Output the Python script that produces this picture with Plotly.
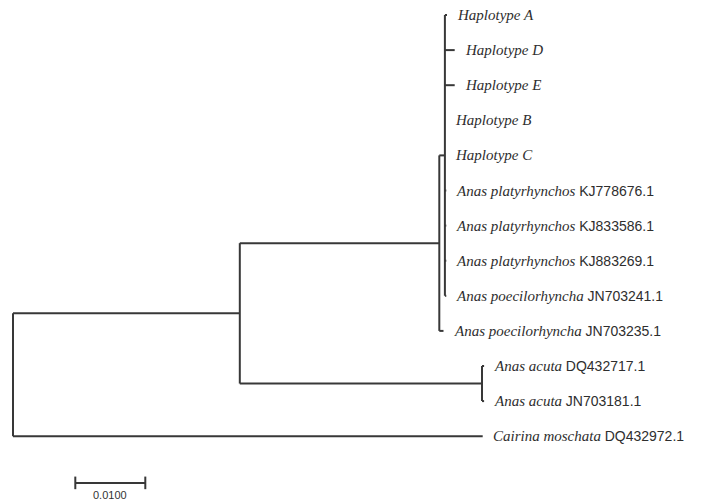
import plotly.graph_objects as go

# ---------------- data ----------------
tip_ids = ["t0", "t1", "t2", "t3", "t4", "t5", "t6", "t7", "t8", "t9", "t10", "t11", "t12"]
tip_species = ["Haplotype A", "Haplotype D", "Haplotype E", "Haplotype B", "Haplotype C",
               "Anas platyrhynchos", "Anas platyrhynchos", "Anas platyrhynchos",
               "Anas poecilorhyncha", "Anas poecilorhyncha",
               "Anas acuta", "Anas acuta", "Cairina moschata"]
tip_accession = ["", "", "", "", "",
                 "KJ778676.1", "KJ833586.1", "KJ883269.1",
                 "JN703241.1", "JN703235.1",
                 "DQ432717.1", "JN703181.1", "DQ432972.1"]

# tree topology: parent -> child with branch length (substitutions/site)
edge_parent = ["root", "root", "n1", "n1", "n2", "n2",
               "n3", "n3", "n3", "n3", "n3", "n3", "n3", "n3", "n3",
               "n4", "n4"]
edge_child = ["n1", "t12", "n2", "n4", "n3", "t9",
              "t0", "t1", "t2", "t3", "t4", "t5", "t6", "t7", "t8",
              "t10", "t11"]
edge_length = [0.0324, 0.0671, 0.0285, 0.0346, 0.0008, 0.0006,
               0.0003, 0.0014, 0.0014, 0.0, 0.0, 0.0002, 0.0002, 0.0002, 0.0002,
               0.0003, 0.0003]

scale_bar_value = 0.01
scale_bar_label = "0.0100"

# ---------------- layout of the tree ----------------
children = {}
for p, c, l in zip(edge_parent, edge_child, edge_length):
    children.setdefault(p, []).append((c, l))

xpos = {"root": 0.0}
ypos = {t: i for i, t in enumerate(tip_ids)}


def place(node):
    for c, l in children.get(node, []):
        xpos[c] = xpos[node] + l
        place(c)
    if node in children:
        ys = [ypos[c] for c, _ in children[node]]
        ypos[node] = (min(ys) + max(ys)) / 2.0


place("root")

lx, ly = [], []
for node, kids in children.items():
    ys = [ypos[c] for c, _ in kids]
    lx += [xpos[node], xpos[node], None]
    ly += [min(ys), max(ys), None]
    for c, _ in kids:
        lx += [xpos[node], xpos[c], None]
        ly += [ypos[c], ypos[c], None]

line_col = "#383838"
fig = go.Figure()
fig.add_trace(go.Scatter(x=lx, y=ly, mode="lines",
                         line=dict(color=line_col, width=2),
                         hoverinfo="skip", showlegend=False))

# tip labels
annotations = []
for t, sp, acc in zip(tip_ids, tip_species, tip_accession):
    txt = "<i>" + sp + "</i>"
    if acc:
        txt += " <span style='font-family:Liberation Sans, Arial; font-size:14px'>" + acc + "</span>"
    annotations.append(dict(x=xpos[t], y=ypos[t], xref="x", yref="y",
                            text=txt, showarrow=False, xanchor="left", yanchor="middle",
                            xshift=8,
                            font=dict(family="Liberation Serif, Times New Roman", size=15,
                                      color="#2e2e2e")))

# scale bar
sb_x0 = 0.0089
sb_y = 13.33
fig.add_trace(go.Scatter(x=[sb_x0, sb_x0 + scale_bar_value], y=[sb_y, sb_y],
                         mode="lines+markers",
                         line=dict(color=line_col, width=2),
                         marker=dict(symbol="line-ns", size=9,
                                     line=dict(color=line_col, width=2)),
                         hoverinfo="skip", showlegend=False))
annotations.append(dict(x=sb_x0 + scale_bar_value / 2, y=sb_y, xref="x", yref="y",
                        text=scale_bar_label, showarrow=False, xanchor="center",
                        yanchor="top", yshift=-4,
                        font=dict(family="Liberation Sans, Arial", size=11, color="#333333")))

# page body has an 8px margin: figure is drawn from (8, 8) in the window
W, H = 715, 496
px_per_unit = 7000.0
x0 = -5 / px_per_unit
x1 = x0 + W / px_per_unit
row_px = 35.1
y_top = -7 / row_px
y_bot = (H - 7) / row_px

fig.update_layout(
    width=W, height=H,
    margin=dict(l=0, r=0, t=0, b=0),
    paper_bgcolor="white", plot_bgcolor="white",
    xaxis=dict(range=[x0, x1], visible=False, fixedrange=True),
    yaxis=dict(range=[y_bot, y_top], visible=False, fixedrange=True),
    annotations=annotations,
    showlegend=False,
)

fig.write_html("out.html")
